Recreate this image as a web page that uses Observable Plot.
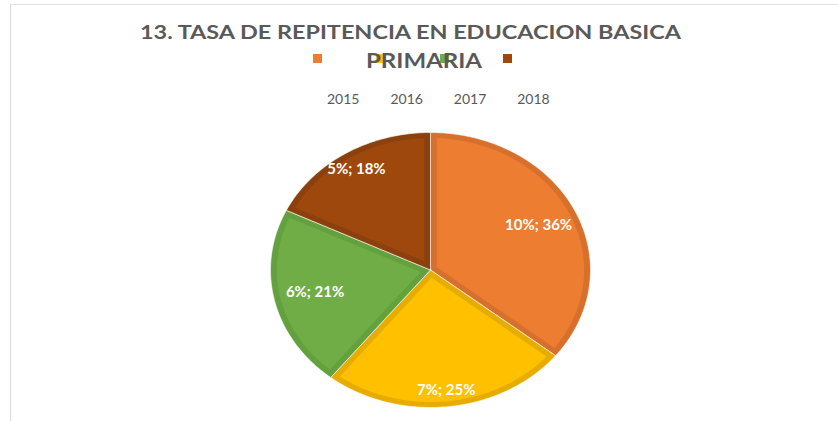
<!DOCTYPE html>
<html>
<head>
<meta charset="utf-8">
<script src="https://cdn.jsdelivr.net/npm/d3@7"></script>
<script src="https://cdn.jsdelivr.net/npm/@observablehq/plot@0.6"></script>
<style>
  html, body { margin: 0; padding: 0; background: #fff; }
  #wrap { position: relative; width: 838px; height: 421px; overflow: hidden; font-family: Lato, "Open Sans", sans-serif; }
  #frame { position: absolute; left: 10px; top: 4px; right: -5px; bottom: -5px; border-left: 1px solid #d9d9d9; border-top: 1px solid #e0e0e0; }
  #chart { position: absolute; left: 0; top: 0; }
  .t { position: absolute; left: 0; text-align: center; font-weight: 700; color: #595959; line-height: 1.2; white-space: nowrap; transform: scaleX(1.2); transform-origin: center; }
  .sq { position: absolute; width: 9px; height: 9px; }
  .lab { position: absolute; font-size: 14px; line-height: 1.2; color: #595959; }
</style>
</head>
<body>
<div id="wrap">
  <div id="frame"></div>
  <div id="chart"></div>
  <div id="legend"></div>
  <div class="t" id="t1" style="width:821px; top:19.5px; font-size:19.5px;">13. TASA DE REPITENCIA EN EDUCACION BASICA</div>
  <div class="t" id="t2" style="width:848px; top:48px; font-size:20px;">PRIMARIA</div>
</div>
<script>
// ---- data ----
const years = ["2015", "2016", "2017", "2018"];
const rates = [10, 7, 6, 5];           // tasa de repitencia (%)
// ---- styles / layout ----
const fillColors = ["#ED7D31", "#FFC000", "#70AD47", "#9E480E"];
const edgeColors = ["#D7702C", "#E6AD00", "#63A03E", "#8C400D"];
const labelRadius = [0.75, 0.88, 0.74, 0.87];

const total = d3.sum(rates);
const pie = d3.pie().sort(null).value(d => d)(rates);
const fmtPct = d3.format(".0%");

// Build slice polygons in unit-circle coordinates (angle clockwise from 12 o'clock)
const inset = 6 / 150;
const outer = [], inner = [];
pie.forEach((p, i) => {
  const a0 = p.startAngle, a1 = p.endAngle;
  const n = Math.max(8, Math.ceil((a1 - a0) / (Math.PI / 180)));
  outer.push({i, x: 0, y: 0});
  for (let k = 0; k <= n; k++) {
    const a = a0 + (a1 - a0) * k / n;
    outer.push({i, x: Math.sin(a), y: Math.cos(a)});
  }
  outer.push({i, x: 0, y: 0});
  // inset polygon
  const half = (a1 - a0) / 2, mid = (a0 + a1) / 2;
  const off = inset / Math.sin(Math.min(half, Math.PI / 2));
  const r = 1 - inset;
  const del = Math.asin(inset / r);
  inner.push({i, x: off * Math.sin(mid), y: off * Math.cos(mid)});
  for (let k = 0; k <= n; k++) {
    const a = (a0 + del) + (a1 - a0 - 2 * del) * k / n;
    inner.push({i, x: r * Math.sin(a), y: r * Math.cos(a)});
  }
});

const labels = pie.map((p, i) => {
  const mid = (p.startAngle + p.endAngle) / 2;
  return {
    i,
    x: labelRadius[i] * Math.sin(mid),
    y: labelRadius[i] * Math.cos(mid),
    text: `${rates[i]}%; ${fmtPct(rates[i] / total)}`
  };
});

const chart = Plot.plot({
  width: 838,
  height: 421,
  x: {domain: [-1, 1], range: [270, 590], axis: null},
  y: {domain: [-1, 1], range: [407, 132], axis: null},
  color: {type: "identity"},
  style: {background: "transparent", fontFamily: "Lato, 'Open Sans', sans-serif"},
  marks: [
    Plot.line(outer, {x: "x", y: "y", z: "i", fill: d => edgeColors[d.i], stroke: "white", strokeWidth: 0.6, strokeLinejoin: "round", curve: "linear"}),
    Plot.line(inner, {x: "x", y: "y", z: "i", fill: d => fillColors[d.i], stroke: "none", curve: "linear"}),
    Plot.text(labels, {x: "x", y: "y", text: "text", fill: "white", fontSize: 15, fontWeight: "bold"})
  ]
});
document.getElementById("chart").appendChild(chart);

// legend (squares on one row, year labels on the row below, as in the reference)
const legend = document.getElementById("legend");
years.forEach((yr, i) => {
  const sq = document.createElement("div");
  sq.className = "sq";
  sq.style.left = (313 + i * 63.4) + "px";
  sq.style.top = "54px";
  sq.style.background = fillColors[i];
  legend.appendChild(sq);
  const lb = document.createElement("div");
  lb.className = "lab";
  lb.style.left = (327 + i * 63.4) + "px";
  lb.style.top = "91px";
  lb.textContent = yr;
  legend.appendChild(lb);
});
</script>
</body>
</html>
